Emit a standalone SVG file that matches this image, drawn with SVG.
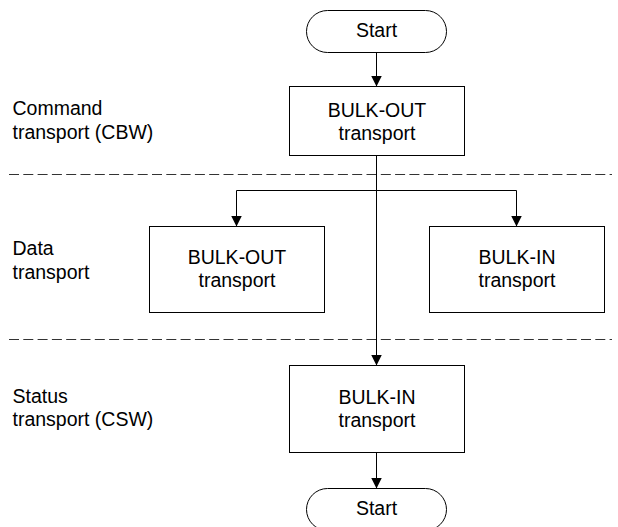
<svg xmlns="http://www.w3.org/2000/svg" width="618" height="527" viewBox="0 0 618 527">
  <defs>
    <marker id="arrow" viewBox="0 0 11 11" refX="11" refY="5.5" markerWidth="11" markerHeight="11" markerUnits="userSpaceOnUse" orient="auto">
      <path d="M0,0 L11,5.5 L0,11 Z" fill="#000"/>
    </marker>
  </defs>
  <style>
    .shape { fill: #fff; stroke: #000; stroke-width: 1; }
    .conn { fill: none; stroke: #000; stroke-width: 1; }
    .divider { fill: none; stroke: #333; stroke-width: 1; stroke-dasharray: 10 4.3; }
    text { font-family: "Liberation Sans", Arial, sans-serif; font-size: 19.5px; fill: #000; }
    .node text { text-anchor: middle; }
  </style>
  <rect width="618" height="527" fill="#fff"/>

  <g id="dividers">
    <line class="divider" x1="9" y1="174.5" x2="612" y2="174.5"/>
    <line class="divider" x1="9" y1="339.5" x2="612" y2="339.5"/>
  </g>

  <g id="lane-labels">
    <text x="12.5" y="115">Command</text>
    <text x="12.5" y="138.5">transport (CBW)</text>
    <text x="12.5" y="255">Data</text>
    <text x="12.5" y="278.5">transport</text>
    <text x="12.5" y="403">Status</text>
    <text x="12.5" y="426">transport (CSW)</text>
  </g>

  <g id="connectors">
    <line class="conn" x1="376.5" y1="52" x2="376.5" y2="86.5" marker-end="url(#arrow)"/>
    <line class="conn" x1="376.5" y1="155.5" x2="376.5" y2="365.5" marker-end="url(#arrow)"/>
    <path class="conn" d="M376.5,190.5 H236.5 V226.5" marker-end="url(#arrow)"/>
    <path class="conn" d="M376.5,190.5 H516.5 V226.5" marker-end="url(#arrow)"/>
    <line class="conn" x1="376.5" y1="452.5" x2="376.5" y2="488.5" marker-end="url(#arrow)"/>
  </g>

  <g id="start-top" class="node">
    <rect class="shape" x="306.5" y="10.5" width="140" height="42" rx="21" ry="21"/>
    <text x="376.5" y="37">Start</text>
  </g>

  <g id="cmd-bulk-out" class="node">
    <rect class="shape" x="289.5" y="86.5" width="175" height="69"/>
    <text x="377" y="116.5">BULK-OUT</text>
    <text x="377" y="139.5">transport</text>
  </g>

  <g id="data-bulk-out" class="node">
    <rect class="shape" x="149.5" y="226.5" width="175" height="86"/>
    <text x="237" y="264">BULK-OUT</text>
    <text x="237" y="287">transport</text>
  </g>

  <g id="data-bulk-in" class="node">
    <rect class="shape" x="429.5" y="226.5" width="175" height="86"/>
    <text x="517" y="264">BULK-IN</text>
    <text x="517" y="287">transport</text>
  </g>

  <g id="status-bulk-in" class="node">
    <rect class="shape" x="289.5" y="365.5" width="175" height="87"/>
    <text x="377" y="404">BULK-IN</text>
    <text x="377" y="427">transport</text>
  </g>

  <g id="start-bottom" class="node">
    <rect class="shape" x="306.5" y="488.5" width="140" height="42" rx="21" ry="21"/>
    <text x="376.5" y="515">Start</text>
  </g>
</svg>
